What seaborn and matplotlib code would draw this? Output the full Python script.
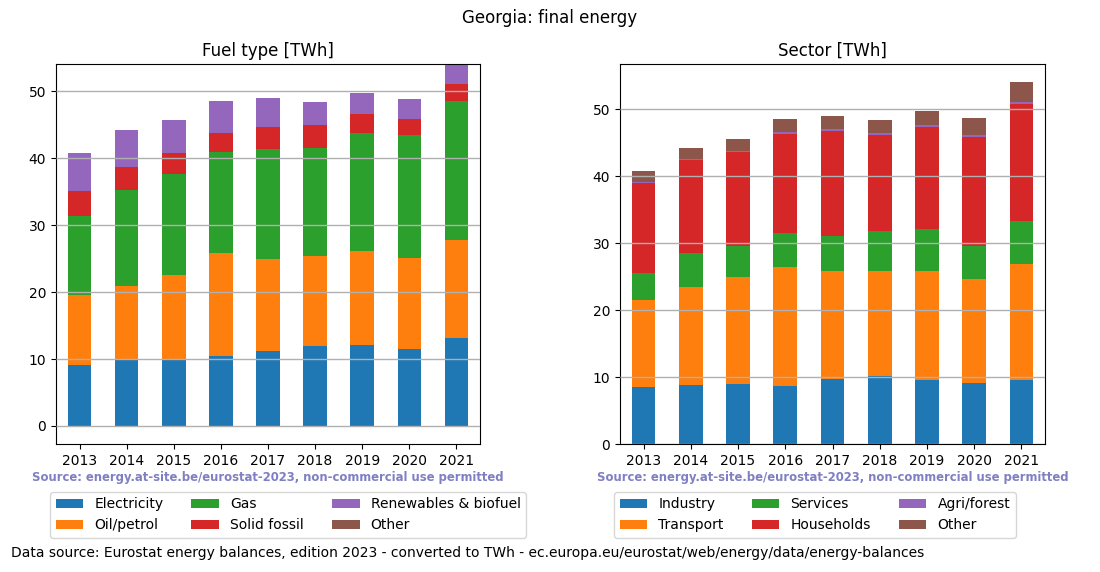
import matplotlib
matplotlib.use("Agg")
import matplotlib.pyplot as plt
import seaborn as sns
import numpy as np
import pandas as pd
from matplotlib.patches import Patch

years = [str(y) for y in range(2013, 2022)]

# Fuel type [TWh]
fuel_names = ["Electricity", "Oil/petrol", "Gas", "Solid fossil", "Renewables & biofuel", "Other"]
electricity = [9.11, 10.01, 10.01, 10.46, 11.21, 12.00, 12.10, 11.50, 13.20]
oil_petrol = [10.46, 10.91, 12.55, 15.39, 13.74, 13.40, 14.05, 13.60, 14.59]
gas = [11.85, 14.39, 15.09, 15.14, 16.43, 16.13, 17.62, 18.38, 20.77]
solid_fossil = [3.69, 3.39, 3.14, 2.78, 3.29, 3.44, 2.89, 2.39, 2.54]
renewables = [5.68, 5.52, 4.93, 4.79, 4.33, 3.44, 3.09, 2.98, 2.97]
fuel_other = [0.02, 0.02, 0.02, 0.02, 0.02, 0.02, 0.02, 0.02, 0.02]

# Sector [TWh]
sector_names = ["Industry", "Transport", "Services", "Households", "Agri/forest", "Other"]
industry = [8.52, 8.81, 8.96, 8.67, 9.71, 10.16, 9.56, 9.11, 9.56]
transport = [12.99, 14.65, 15.99, 17.77, 16.14, 15.69, 16.29, 15.54, 17.33]
services = [4.04, 5.08, 4.63, 5.08, 5.23, 5.97, 6.27, 4.93, 6.43]
households = [13.44, 13.94, 14.09, 14.84, 15.73, 14.40, 15.29, 16.34, 17.53]
agri_forest = [0.15, 0.15, 0.15, 0.30, 0.30, 0.29, 0.30, 0.30, 0.30]
sector_other = [1.65, 1.59, 1.75, 1.90, 1.89, 1.90, 2.04, 2.54, 2.93]

colors = ['#1f77b4', '#ff7f0e', '#2ca02c', '#d62728', '#9467bd', '#8c564b']

W, H = 1100, 572
fig = plt.figure(figsize=(W / 100, H / 100), dpi=100)
ax1 = fig.add_axes([56 / W, 1 - 444 / H, 424 / W, 380 / H])
ax2 = fig.add_axes([620 / W, 1 - 444 / H, 425 / W, 380 / H])


def stacked(ax, layers, names, title, ylim):
    cum = np.cumsum(np.array(layers), axis=0)
    for i in reversed(range(len(layers))):
        df = pd.DataFrame({"year": years, "value": cum[i]})
        sns.barplot(data=df, x="year", y="value", color=colors[i], saturation=1,
                    width=0.5, ax=ax, zorder=1, errorbar=None)
    ax.set_axisbelow(False)
    ax.yaxis.grid(True, color='#b0b0b0', linewidth=1, zorder=2.5)
    ax.xaxis.grid(False)
    ax.set_xlabel("")
    ax.set_ylabel("")
    ax.set_xlim(-0.5, 8.5)
    ax.set_ylim(*ylim)
    ax.set_yticks([0, 10, 20, 30, 40, 50])
    ax.tick_params(labelsize=10)
    ax.set_title(title, fontsize=12)
    for s in ax.spines.values():
        s.set_visible(True)
        s.set_color('black')
    handles = [Patch(facecolor=colors[i], label=names[i]) for i in range(len(names))]
    ax.legend(handles=handles, ncol=3, loc='upper left',
              bbox_to_anchor=(-0.014, -0.126), borderaxespad=0, fontsize=10,
              frameon=True)
    ax.text(0.5, (444 - 478) / 380,
            "Source: energy.at-site.be/eurostat-2023, non-commercial use permitted",
            transform=ax.transAxes, ha='center', va='center', fontsize=8.4,
            fontweight='bold', color='#7f7fc4')


stacked(ax1, [electricity, oil_petrol, gas, solid_fossil, renewables, fuel_other],
        fuel_names, "Fuel type [TWh]", (-2.69, 54.09))
stacked(ax2, [industry, transport, services, households, agri_forest, sector_other],
        sector_names, "Sector [TWh]", (0, 56.77))

fig.text(0.5, 1 - 18 / H, "Georgia: final energy", ha='center', va='center', fontsize=12)
fig.text(11 / W, 1 - 553 / H,
         "Data source: Eurostat energy balances, edition 2023 - converted to TWh - ec.europa.eu/eurostat/web/energy/data/energy-balances",
         ha='left', va='center', fontsize=10)

fig.savefig("out.png", dpi=100)
